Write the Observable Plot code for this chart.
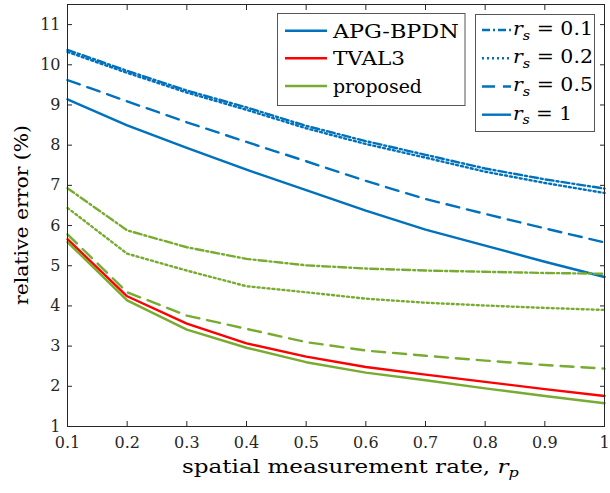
<!DOCTYPE html>
<html><head><meta charset="utf-8">
<script src="https://cdn.jsdelivr.net/npm/d3@7"></script>
<script src="https://cdn.jsdelivr.net/npm/@observablehq/plot@0.6"></script>
<style>
body{margin:0;background:#fff;}
#chart{width:610px;height:493px;}
</style></head><body><div id="chart"></div>
<script>
// spatial measurement rate r_p
const rp = [0.1, 0.2, 0.3, 0.4, 0.5, 0.6, 0.7, 0.8, 0.9, 1.0];
// APG-BPDN for each temporal rate r_s
const apg01 = [10.37, 9.85, 9.36, 8.94, 8.48, 8.10, 7.76, 7.42, 7.15, 6.92];
const apg02 = [10.32, 9.80, 9.31, 8.88, 8.42, 8.03, 7.69, 7.34, 7.06, 6.81];
const apg05 = [9.62, 9.09, 8.57, 8.08, 7.60, 7.11, 6.66, 6.29, 5.93, 5.58];
const apg1  = [9.14, 8.49, 7.93, 7.39, 6.88, 6.37, 5.90, 5.50, 5.10, 4.72];
// TVAL3
const tval3 = [5.66, 4.24, 3.56, 3.07, 2.74, 2.48, 2.29, 2.11, 1.93, 1.76];
// proposed
const prop01 = [6.93, 5.88, 5.46, 5.17, 5.01, 4.93, 4.88, 4.85, 4.82, 4.80];
const prop02 = [6.44, 5.30, 4.88, 4.49, 4.34, 4.18, 4.08, 4.01, 3.95, 3.90];
const prop05 = [5.78, 4.34, 3.76, 3.43, 3.10, 2.89, 2.76, 2.64, 2.53, 2.44];
const prop1  = [5.59, 4.14, 3.41, 2.96, 2.60, 2.34, 2.15, 1.95, 1.76, 1.58];

const xTicks = [0.1, 0.2, 0.3, 0.4, 0.5, 0.6, 0.7, 0.8, 0.9, 1];
const xTickLabels = ["0.1", "0.2", "0.3", "0.4", "0.5", "0.6", "0.7", "0.8", "0.9", "1"];
const yTicks = [1, 2, 3, 4, 5, 6, 7, 8, 9, 10, 11];
const methods = ["APG-BPDN", "TVAL3", "proposed"];
const rsValues = ["0.1", "0.2", "0.5", "1"];
const methodColors = ["#0072BD", "#FF0000", "#77AC30"];
const rsDash = ["8,3,2,3", "2,3", "13,8", null];

const series = [
  {method: "APG-BPDN", rs: "0.1", values: apg01},
  {method: "APG-BPDN", rs: "0.2", values: apg02},
  {method: "APG-BPDN", rs: "0.5", values: apg05},
  {method: "APG-BPDN", rs: "1", values: apg1},
  {method: "TVAL3", rs: "1", values: tval3},
  {method: "proposed", rs: "0.1", values: prop01},
  {method: "proposed", rs: "0.2", values: prop02},
  {method: "proposed", rs: "0.5", values: prop05},
  {method: "proposed", rs: "1", values: prop1}
];
const colorOf = m => methodColors[methods.indexOf(m)];
const dashOf = r => rsDash[rsValues.indexOf(r)];

const lineMarks = series.map(s => Plot.line(
  s.values.map((v, i) => ({x: rp[i], y: v})),
  {x: "x", y: "y", stroke: colorOf(s.method), strokeWidth: 2.4,
   strokeDasharray: dashOf(s.rs), strokeLinejoin: "round"}
));

const axisColor = "#262626";
const plot = Plot.plot({
  width: 610, height: 493,
  marginLeft: 67, marginRight: 6, marginTop: 4, marginBottom: 67,
  style: {fontFamily: "DejaVu Serif", fontSize: "16px", color: axisColor, background: "white"},
  x: {domain: [0.1, 1]},
  y: {domain: [1, 11.5]},
  marks: [
    ...lineMarks,
    Plot.frame({stroke: axisColor, strokeWidth: 1}),
    Plot.axisX({ticks: xTicks, tickSize: -5, tickPadding: 15, tickFormat: d => xTickLabels[xTicks.indexOf(d)], label: null, stroke: axisColor}),
    Plot.axisX({anchor: "top", ticks: xTicks, tickSize: -5, tickFormat: () => "", label: null, stroke: axisColor}),
    Plot.axisY({ticks: yTicks, tickSize: -5, tickPadding: 12, label: null, stroke: axisColor}),
    Plot.axisY({anchor: "right", ticks: yTicks, tickSize: -5, tickFormat: () => "", label: null, stroke: axisColor})
  ]
});
document.getElementById("chart").appendChild(plot);

const svg = d3.select(plot);
const font = "DejaVu Serif";
function fit(sel, x0, target) {
  const w = sel.node().getBBox().width;
  const k = target / w;
  sel.attr("transform", `translate(${x0},0) scale(${k},1) translate(${-x0},0)`);
}
function mathLabel(g, x, y, sub, rest, size) {
  const t = g.append("text").attr("x", x).attr("y", y).attr("text-anchor", "start")
    .attr("font-family", font).attr("font-size", size).attr("fill", "#000");
  t.append("tspan").attr("font-style", "italic").text("r");
  t.append("tspan").attr("font-style", "italic").attr("font-size", size * 0.7).attr("dy", size * 0.25).text(sub);
  t.append("tspan").attr("dy", -size * 0.25).text(rest);
  return t;
}

// y label
svg.append("text")
  .attr("transform", "translate(28,215) rotate(-90)")
  .attr("text-anchor", "middle").attr("font-family", font).attr("font-size", 19)
  .attr("fill", "#000").attr("textLength", 180).attr("lengthAdjust", "spacingAndGlyphs")
  .text("relative error (%)");

// x label
const xl = svg.append("text").attr("x", 182).attr("y", 473).attr("text-anchor", "start")
  .attr("font-family", font).attr("font-size", 18).attr("fill", "#000");
xl.append("tspan").text("spatial measurement rate, ");
xl.append("tspan").attr("font-style", "italic").text("r");
xl.append("tspan").attr("font-style", "italic").attr("font-size", 12.5).attr("dy", 4.5).text("p");
fit(xl, 182, 337);

// legend 1: methods
const lg1 = svg.append("g");
lg1.append("rect").attr("x", 277.5).attr("y", 13.5).attr("width", 187.5).attr("height", 92)
  .attr("fill", "white").attr("stroke", "#555").attr("stroke-width", 1);
const rows1 = [30.7, 58.3, 86];
const widths1 = [127, 72, 89];
methods.forEach((m, i) => {
  lg1.append("line").attr("x1", 285).attr("x2", 327).attr("y1", rows1[i]).attr("y2", rows1[i])
    .attr("stroke", methodColors[i]).attr("stroke-width", 2.4);
  const t = lg1.append("text").attr("x", 333).attr("y", rows1[i] + 7).attr("text-anchor", "start")
    .attr("font-family", font).attr("font-size", 19).attr("fill", "#000").text(m);
  fit(t, 333, widths1[i]);
});

// legend 2: r_s line styles
const lg2 = svg.append("g");
lg2.append("rect").attr("x", 475.5).attr("y", 14.5).attr("width", 119).attr("height", 117)
  .attr("fill", "white").attr("stroke", "#555").attr("stroke-width", 1);
const rows2 = [30, 58.3, 86.5, 114.7];
const widths2 = [80, 80, 80, 59];
rsValues.forEach((r, i) => {
  lg2.append("line").attr("x1", 482).attr("x2", 511).attr("y1", rows2[i]).attr("y2", rows2[i])
    .attr("stroke", methodColors[0]).attr("stroke-width", 2.4)
    .attr("stroke-dasharray", rsDash[i]);
  const t = mathLabel(lg2, 513, rows2[i] + 5, "s", " = " + r, 19);
  fit(t, 513, widths2[i]);
});
</script>
</body></html>
